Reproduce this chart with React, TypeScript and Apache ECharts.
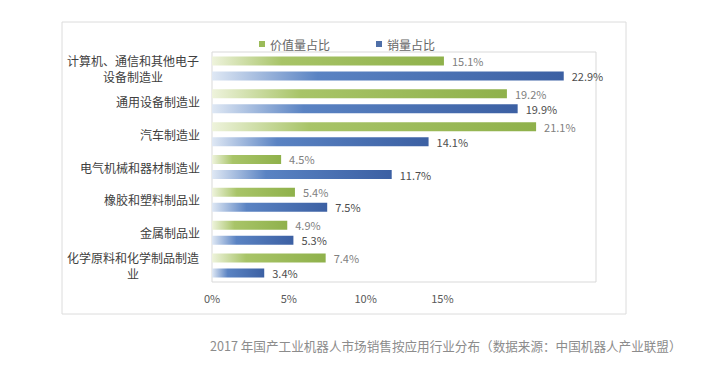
import React, { useEffect, useRef } from "react";
import * as echarts from "echarts";

const categories = [
  "计算机、通信和其他电子\n设备制造业",
  "通用设备制造业",
  "汽车制造业",
  "电气机械和器材制造业",
  "橡胶和塑料制品业",
  "金属制品业",
  "化学原料和化学制品制造\n业",
];
const valueShare = [15.1, 19.2, 21.1, 4.5, 5.4, 4.9, 7.4];
const salesShare = [22.9, 19.9, 14.1, 11.7, 7.5, 5.3, 3.4];
const seriesNames = ["价值量占比", "销量占比"];
const caption = "2017 年国产工业机器人市场销售按应用行业分布（数据来源：中国机器人产业联盟）";

const FONT = "'Noto Sans CJK SC', 'Noto Sans', sans-serif";

export default function App() {
  const ref = useRef<HTMLDivElement>(null);
  useEffect(() => {
    if (!ref.current) return;
    const chart = echarts.init(ref.current, null, { renderer: "svg" });
    const greenGrad = new echarts.graphic.LinearGradient(0, 0, 1, 0, [
      { offset: 0, color: "#eef3dc" },
      { offset: 0.3, color: "#a8c468" },
      { offset: 1, color: "#8fb14b" },
    ]);
    const blueGrad = new echarts.graphic.LinearGradient(0, 0, 1, 0, [
      { offset: 0, color: "#dfe8f4" },
      { offset: 0.3, color: "#5a83c3" },
      { offset: 1, color: "#3c60a3" },
    ]);
    chart.setOption({
      animation: false,
      backgroundColor: "#ffffff",
      textStyle: { fontFamily: FONT },
      legend: {
        left: 254,
        top: 33,
        itemWidth: 6,
        itemHeight: 6,
        itemGap: 46,
        icon: "rect",
        textStyle: { fontSize: 12, color: "#666666", fontFamily: FONT },
        data: [
          { name: seriesNames[0], itemStyle: { color: "#9bbb59" } },
          { name: seriesNames[1], itemStyle: { color: "#4f6fa8" } },
        ],
      },
      grid: {
        left: 212,
        right: 112,
        top: 52,
        bottom: 95,
        show: true,
        borderColor: "#d9d9d9",
        borderWidth: 1,
        backgroundColor: "transparent",
      },
      xAxis: {
        type: "value",
        min: 0,
        max: 25,
        interval: 5,
        axisLine: { show: false },
        axisTick: { show: false },
        splitLine: { show: false },
        axisLabel: {
          margin: 10,
          fontSize: 11,
          color: "#595959",
          fontFamily: FONT,
          formatter: (v: number) => (v <= 15 ? v + "%" : ""),
        },
      },
      yAxis: {
        type: "category",
        inverse: true,
        data: categories,
        axisLine: { show: false },
        axisTick: { show: false },
        axisLabel: {
          margin: 12,
          fontSize: 12,
          lineHeight: 16,
          color: "#404040",
          align: "right",
          fontFamily: FONT,
          formatter: (v: string) => {
            if (v.indexOf("\n") < 0) return v;
            const parts = v.split("\n");
            return parts.map((p) => "{c|" + p + "}").join("\n");
          },
          rich: {
            c: {
              width: 134,
              align: "center",
              fontSize: 12,
              lineHeight: 16,
              color: "#404040",
              fontFamily: FONT,
            },
          },
        },
      },
      series: [
        {
          name: seriesNames[0],
          type: "bar",
          data: valueShare,
          barWidth: 9,
          barGap: "67%",
          itemStyle: { color: greenGrad },
          label: {
            show: true,
            position: "right",
            distance: 8,
            fontSize: 11,
            color: "#808080",
            fontFamily: FONT,
            formatter: (p: any) => p.value.toFixed(1) + "%",
          },
        },
        {
          name: seriesNames[1],
          type: "bar",
          data: salesShare,
          barWidth: 9,
          itemStyle: { color: blueGrad },
          label: {
            show: true,
            position: "right",
            distance: 8,
            fontSize: 11,
            color: "#4d4d4d",
            fontFamily: FONT,
            formatter: (p: any) => p.value.toFixed(1) + "%",
          },
        },
      ],
      graphic: [
        {
          type: "rect",
          shape: { x: 62, y: 22, width: 564, height: 292 },
          style: { fill: "none", stroke: "#dcdcdc", lineWidth: 1 },
          silent: true,
        },
        {
          type: "text",
          x: 210,
          y: 345,
          style: {
            text: caption,
            fontSize: 12.6,
            fill: "#8c8c8c",
            fontFamily: FONT,
            verticalAlign: "middle",
          },
        },
      ],
    });
    return () => chart.dispose();
  }, []);
  return (
    <div
      ref={ref}
      style={{ position: "fixed", left: 0, top: 0, width: 708, height: 377 }}
    />
  );
}
